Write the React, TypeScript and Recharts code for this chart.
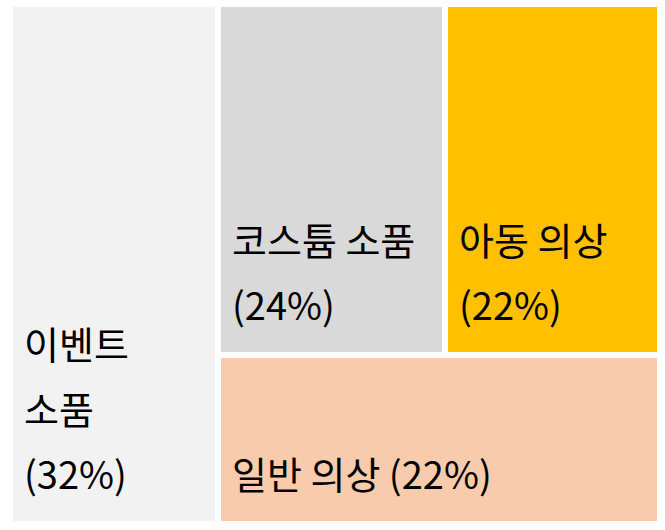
import { Treemap } from "recharts";

const categories = ["이벤트 소품", "코스튬 소품", "아동 의상", "일반 의상"];
const shares = [32.0, 23.6, 22.3, 22.1];
const colors = ["#F2F2F2", "#D9D9D9", "#FFC000", "#F8CBAD"];

const total = shares.reduce((a, b) => a + b, 0);

const leaf = (i: number) => ({ name: categories[i], size: shares[i] });

// nesting keeps the office-style slice layout: big block left, two on top, one across the bottom
const treeData = [
  leaf(0),
  {
    name: "rest",
    children: [{ name: "top", children: [leaf(1), leaf(2)] }, leaf(3)],
  },
];

const FONT = "'Noto Sans CJK KR', 'Noto Sans', sans-serif";
const FONT_SIZE = 38;
const LINE_GAP = 65;

function charWidth(c: string) {
  if (/[\uac00-\ud7a3]/.test(c)) return 0.92;
  if (c === " ") return 0.25;
  if (c === "%") return 0.85;
  if (c === "(" || c === ")") return 0.33;
  return 0.55;
}

function textWidth(s: string) {
  return s.split("").reduce((w, c) => w + charWidth(c), 0) * FONT_SIZE;
}

function wrap(label: string, maxWidth: number) {
  const words = label.split(" ");
  const lines: string[] = [];
  let cur = "";
  words.forEach((w) => {
    const next = cur ? cur + " " + w : w;
    if (cur && textWidth(next) > maxWidth) {
      lines.push(cur);
      cur = w;
    } else {
      cur = next;
    }
  });
  if (cur) lines.push(cur);
  return lines;
}

function Tile(props: any) {
  const { x, y, width, height, name, children } = props;
  if ((children && children.length) || !categories.includes(name)) return null;
  const i = categories.indexOf(name);
  const pct = Math.round((shares[i] / total) * 100);
  const lines = wrap(`${name} (${pct}%)`, width - 40);
  const lastY = y + height - 35;
  return (
    <g>
      <rect x={x} y={y} width={width} height={height} fill={colors[i]} stroke="#fff" strokeWidth={6} />
      <text fontFamily={FONT} fontSize={FONT_SIZE} fill="#000">
        {lines.map((ln, k) => (
          <tspan key={k} x={x + 14} y={lastY - (lines.length - 1 - k) * LINE_GAP}>
            {ln}
          </tspan>
        ))}
      </text>
    </g>
  );
}

export default function App() {
  return (
    <div style={{ position: "absolute", left: 10, top: 4, width: 650, height: 520 }}>
      <Treemap
        width={650}
        height={520}
        data={treeData}
        dataKey="size"
        aspectRatio={1}
        isAnimationActive={false}
        content={(p: any) => <Tile {...p} />}
      />
    </div>
  );
}
